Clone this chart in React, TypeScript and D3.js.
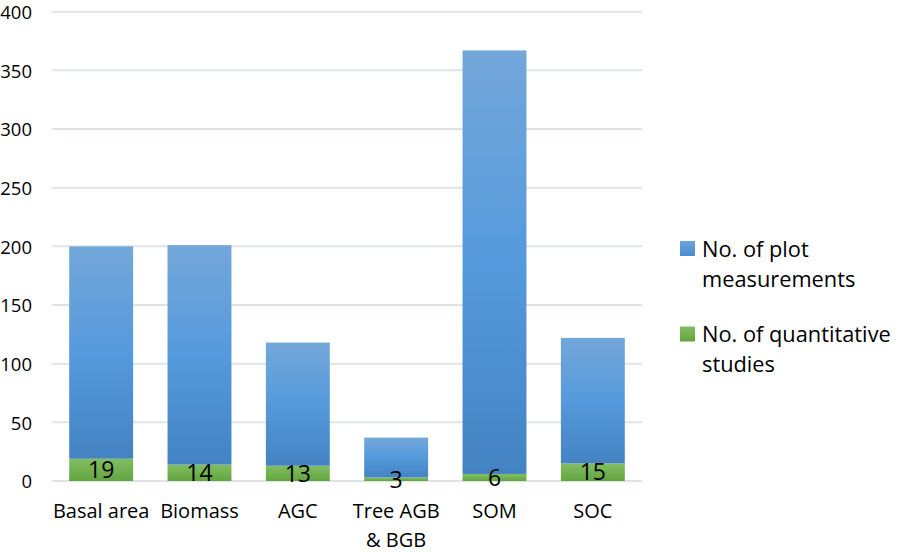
import React from "react";
import * as d3 from "d3";

const categories = ["Basal area", "Biomass", "AGC", "Tree AGB\n& BGB", "SOM", "SOC"];
const studies = [19, 14, 13, 3, 6, 15];
const plotMeasurements = [181, 187, 105, 34, 361, 107];
const yTicks = [0, 50, 100, 150, 200, 250, 300, 350, 400];
const seriesNames = ["No. of plot\nmeasurements", "No. of quantitative\nstudies"];

const W = 898;
const H = 553;
const font = "'Open Sans', 'Noto Sans', sans-serif";

export default function App() {
  const x = d3.scaleBand<string>()
    .domain(categories)
    .range([52, 642])
    .paddingInner(0.35)
    .paddingOuter(0.175);
  const y = d3.scaleLinear().domain([0, 400]).range([481, 11.7]);

  const rows = categories.map((c, i) => ({ cat: c, studies: studies[i], plots: plotMeasurements[i] }));
  const stack = d3.stack<any>().keys(["studies", "plots"])(rows);

  return (
    <>
      <style>{`body{margin:0}`}</style>
      <svg width={W} height={H} style={{ display: "block", fontFamily: font }}>
        <defs>
          <linearGradient id="blue" x1="0" y1="0" x2="0" y2="1">
            <stop offset="0" stopColor="#73a7da" />
            <stop offset="0.5" stopColor="#559adc" />
            <stop offset="1" stopColor="#4383c3" />
          </linearGradient>
          <linearGradient id="green" x1="0" y1="0" x2="0" y2="1">
            <stop offset="0" stopColor="#82bd62" />
            <stop offset="1" stopColor="#63a53f" />
          </linearGradient>
          <linearGradient id="blueLeg" x1="0" y1="0" x2="0" y2="1">
            <stop offset="0" stopColor="#6aa5df" />
            <stop offset="1" stopColor="#4a8bcb" />
          </linearGradient>
        </defs>

        {/* grid + y ticks */}
        {yTicks.map(t => (
          <g key={t}>
            <line x1={52} x2={642} y1={y(t)} y2={y(t)} stroke="#dfe3e8" strokeWidth={2} />
            <text x={32} y={y(t)} dy="0.39em" textAnchor="end" fontSize={18.5} fill="#000">{t}</text>
          </g>
        ))}

        {/* bars */}
        {stack.map((layer, li) => (
          <g key={li}>
            {layer.map((d, i) => (
              <rect key={i}
                x={x(categories[i])}
                width={x.bandwidth()}
                y={y(d[1])}
                height={y(d[0]) - y(d[1])}
                fill={li === 0 ? "url(#green)" : "url(#blue)"} />
            ))}
          </g>
        ))}

        {/* data labels for studies */}
        {stack[0].map((d, i) => (
          <text key={i}
            x={x(categories[i])! + x.bandwidth() / 2}
            y={(y(d[0]) + y(d[1])) / 2}
            dy="0.36em"
            textAnchor="middle"
            fontSize={23}
            fill="#000">{studies[i]}</text>
        ))}

        {/* category labels */}
        {categories.map(c => (
          <text key={c} x={x(c)! + x.bandwidth() / 2} y={518} textAnchor="middle" fontSize={20} fill="#000">
            {c.split("\n").map((ln, j) => (
              <tspan key={j} x={x(c)! + x.bandwidth() / 2} dy={j === 0 ? 0 : 29}>{ln}</tspan>
            ))}
          </text>
        ))}

        {/* legend */}
        {seriesNames.map((s, i) => (
          <g key={s} transform={`translate(680,${241 + i * 85.5})`}>
            <rect width={15} height={15} fill={i === 0 ? "url(#blueLeg)" : "url(#green)"} />
            <text x={22} y={15.5} fontSize={21.8} fill="#000">
              {s.split("\n").map((ln, j) => (
                <tspan key={j} x={22} dy={j === 0 ? 0 : 30}>{ln}</tspan>
              ))}
            </text>
          </g>
        ))}
      </svg>
    </>
  );
}
